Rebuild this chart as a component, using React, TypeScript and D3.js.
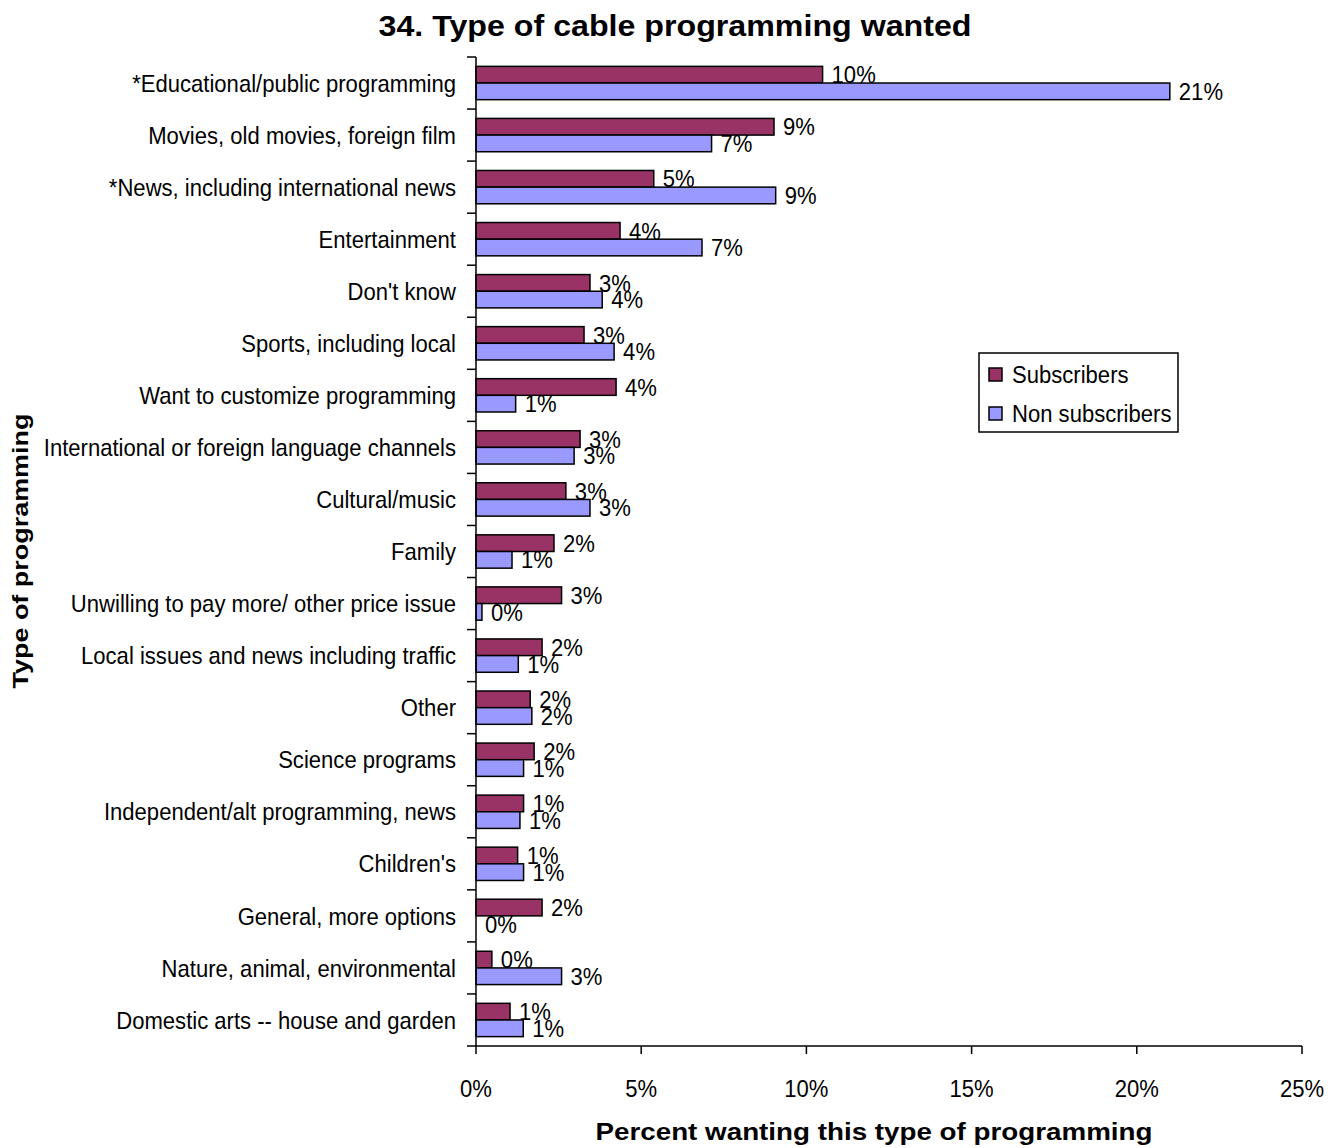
import React from "react";
import * as d3 from "d3";

const categories = [
  "*Educational/public programming",
  "Movies, old movies, foreign film",
  "*News, including international news",
  "Entertainment",
  "Don't know",
  "Sports, including local",
  "Want to customize programming",
  "International or foreign language channels",
  "Cultural/music",
  "Family",
  "Unwilling to pay more/ other price issue",
  "Local issues and news including traffic",
  "Other",
  "Science programs",
  "Independent/alt programming, news",
  "Children's",
  "General, more options",
  "Nature, animal, environmental",
  "Domestic arts -- house and garden",
];

// percent values
const subscribers = [
  10.49, 9.02, 5.38, 4.36, 3.45, 3.27, 4.24, 3.15, 2.72, 2.36, 2.59, 2.0, 1.64,
  1.76, 1.44, 1.26, 2.0, 0.48, 1.03,
];
const nonSubscribers = [
  21.0, 7.13, 9.07, 6.84, 3.82, 4.18, 1.2, 2.97, 3.45, 1.09, 0.18, 1.28, 1.69,
  1.44, 1.33, 1.44, 0, 2.59, 1.43,
];

const seriesNames = ["Subscribers", "Non subscribers"];
const seriesColors = ["#993366", "#9999FF"];
const xTicks = [0, 5, 10, 15, 20, 25];

const W = 1328;
const H = 1148;
const sans = "'Liberation Sans', Arial, sans-serif";
// the original font is a narrow one: draw taller and squeeze horizontally
const FS = 24;
const SQ = 0.92;

// narrow-looking text anchored at (x, y)
const NText = ({
  x,
  y,
  anchor = "start",
  children,
}: {
  x: number;
  y: number;
  anchor?: string;
  children: React.ReactNode;
}) => (
  <g transform={`translate(${x},${y}) scale(${SQ},1)`}>
    <text
      x={0}
      y={0}
      dy="0.36em"
      textAnchor={anchor}
      fontFamily={sans}
      fontSize={FS}
      fill="#000"
    >
      {children}
    </text>
  </g>
);

const App = () => {
  const x = d3.scaleLinear().domain([0, 25]).range([476, 1302]);
  const y = d3
    .scaleBand<string>()
    .domain(categories)
    .range([57, 1046])
    .paddingInner(0.36)
    .paddingOuter(0.18);
  const inner = d3
    .scaleBand<string>()
    .domain(seriesNames)
    .range([0, y.bandwidth()]);
  const series = [subscribers, nonSubscribers];
  const top = y.range()[0];
  const bottom = y.range()[1];
  const bounds = d3.range(categories.length + 1).map((i) => top + i * y.step());
  const fmt = (v: number) => Math.round(v) + "%";

  return (
    <svg
      width={W}
      height={H}
      style={{ position: "absolute", left: 0, top: 0, background: "#fff" }}
    >
      <text
        x={675}
        y={36}
        textAnchor="middle"
        fontFamily={sans}
        fontWeight="bold"
        fontSize={29}
        textLength={593}
        lengthAdjust="spacingAndGlyphs"
      >
        34. Type of cable programming wanted
      </text>

      {/* bars */}
      {series.map((vals, si) =>
        categories.map((c, i) => (
          <rect
            key={si + "-" + i}
            x={x(0)}
            y={(y(c) as number) + (inner(seriesNames[si]) as number)}
            width={x(vals[i]) - x(0)}
            height={inner.bandwidth()}
            fill={seriesColors[si]}
            stroke="#000"
            strokeWidth={1.5}
          />
        ))
      )}

      {/* value labels */}
      {series.map((vals, si) =>
        categories.map((c, i) => (
          <NText
            key={"l" + si + "-" + i}
            x={x(vals[i]) + 9}
            y={
              (y(c) as number) +
              (inner(seriesNames[si]) as number) +
              inner.bandwidth() / 2
            }
          >
            {fmt(vals[i])}
          </NText>
        ))
      )}

      {/* y axis */}
      <line x1={x(0)} x2={x(0)} y1={top} y2={bottom} stroke="#000" strokeWidth={1.5} />
      {bounds.map((b, i) => (
        <line key={"yt" + i} x1={x(0) - 9} x2={x(0)} y1={b} y2={b} stroke="#000" strokeWidth={1.5} />
      ))}
      {categories.map((c) => (
        <NText key={"c" + c} x={456} y={(y(c) as number) + y.bandwidth() / 2} anchor="end">
          {c}
        </NText>
      ))}

      {/* x axis */}
      <line x1={x(0)} x2={x(25)} y1={bottom} y2={bottom} stroke="#000" strokeWidth={1.5} />
      {xTicks.map((t) => (
        <g key={"xt" + t}>
          <line x1={x(t)} x2={x(t)} y1={bottom} y2={bottom + 8} stroke="#000" strokeWidth={1.5} />
          <NText x={x(t)} y={bottom + 42} anchor="middle">
            {t + "%"}
          </NText>
        </g>
      ))}

      <text
        x={874}
        y={1132}
        dy="0.36em"
        textAnchor="middle"
        fontFamily={sans}
        fontWeight="bold"
        fontSize={23}
        textLength={557}
        lengthAdjust="spacingAndGlyphs"
      >
        Percent wanting this type of programming
      </text>
      <text
        transform="translate(20,551) rotate(-90)"
        textAnchor="middle"
        dy="0.36em"
        fontFamily={sans}
        fontWeight="bold"
        fontSize={22}
        textLength={275}
        lengthAdjust="spacingAndGlyphs"
      >
        Type of programming
      </text>

      {/* legend */}
      <rect x={979} y={353} width={199} height={79} fill="#fff" stroke="#000" strokeWidth={1.5} />
      {seriesNames.map((s, i) => (
        <g key={"lg" + s}>
          <rect
            x={989}
            y={368 + i * 39}
            width={13}
            height={13}
            fill={seriesColors[i]}
            stroke="#000"
            strokeWidth={1.5}
          />
          <NText x={1012} y={374 + i * 39}>
            {s}
          </NText>
        </g>
      ))}
    </svg>
  );
};

export default App;
